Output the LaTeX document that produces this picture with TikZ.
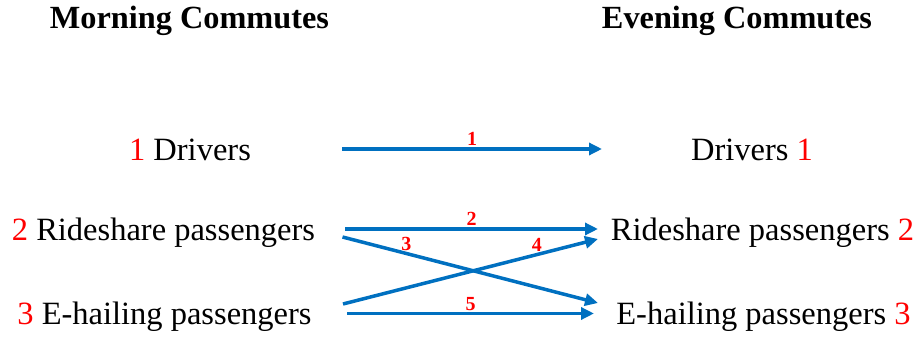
\documentclass[tikz,border=0pt]{standalone}
\usepackage{fontspec}
\setmainfont{Liberation Serif}
\usetikzlibrary{arrows.meta}
\definecolor{flowblue}{RGB}{0,112,192}

\begin{document}
\begin{tikzpicture}[x=1pt,y=-1pt,
    every node/.style={inner sep=0pt,anchor=base},
    headtext/.style={font=\bfseries\fontsize{32.3}{36}\selectfont},
    grouptext/.style={font=\fontsize{32.5}{36}\selectfont},
    flow/.style={draw=flowblue,line width=3.5pt,-{Triangle[length=13pt,width=12pt]}},
    count/.style={text=red,font=\bfseries\fontsize{20}{22}\selectfont,above=1.5pt}]
  \useasboundingbox (0,0) rectangle (919,339);
  % column heads
  \node[headtext] (mtitle) at (189.5,29) {Morning Commutes};
  \node[headtext] (etitle) at (737,29) {Evening Commutes};
  % morning groups
  \node[grouptext] (m1) at (190,161) {\textcolor{red}{1} Drivers};
  \node[grouptext] (m2) at (163.5,241) {\textcolor{red}{2} Rideshare passengers};
  \node[grouptext] (m3) at (164.5,324.5) {\textcolor{red}{3} E-hailing passengers};
  % evening groups
  \node[grouptext] (e1) at (752,161) {Drivers \textcolor{red}{1}};
  \node[grouptext] (e2) at (762.5,241) {Rideshare passengers \textcolor{red}{2}};
  \node[grouptext] (e3) at (763.5,324.5) {E-hailing passengers \textcolor{red}{3}};
  % arrow ends
  \coordinate (s1) at (342,149);   \coordinate (t1) at (602,149);
  \coordinate (s2) at (345,229);   \coordinate (t2) at (598,229);
  \coordinate (s3) at (342.5,237); \coordinate (t3) at (598,303);
  \coordinate (s4) at (343,304);   \coordinate (t4) at (598,239);
  \coordinate (s5) at (347,313.5); \coordinate (t5) at (594,313.5);
  \draw[flow] (s1) -- node[count] {1} (t1);
  \draw[flow] (s2) -- node[count] {2} (t2);
  \draw[flow] (s3) -- node[count,pos=0.25] {3} (t3);
  \draw[flow] (s4) -- node[count,pos=0.76] {4} (t4);
  \draw[flow] (s5) -- node[count] {5} (t5);
\end{tikzpicture}
\end{document}
